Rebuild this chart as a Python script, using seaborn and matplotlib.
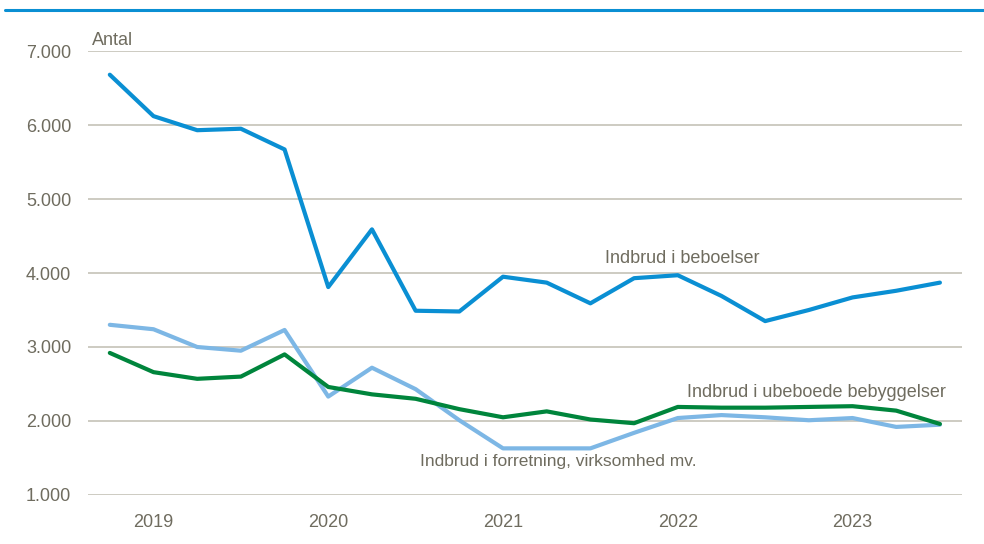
import pandas as pd
import matplotlib.pyplot as plt
import seaborn as sns

# quarters 2018 K4 .. 2023 K3
quarters = ['2018K4', '2019K1', '2019K2', '2019K3', '2019K4',
            '2020K1', '2020K2', '2020K3', '2020K4',
            '2021K1', '2021K2', '2021K3', '2021K4',
            '2022K1', '2022K2', '2022K3', '2022K4',
            '2023K1', '2023K2', '2023K3']
year_labels = ['2019', '2020', '2021', '2022', '2023']

beboelser = [6680, 6120, 5930, 5950, 5670, 3810, 4590, 3490, 3480, 3950,
             3870, 3590, 3930, 3970, 3690, 3350, 3500, 3670, 3760, 3870]
forretning = [3300, 3240, 3000, 2950, 3230, 2330, 2720, 2430, 2010, 1630,
              1630, 1630, 1840, 2040, 2080, 2050, 2010, 2040, 1920, 1950]
ubeboede = [2920, 2660, 2570, 2600, 2900, 2460, 2360, 2300, 2160, 2050,
            2130, 2020, 1970, 2190, 2180, 2180, 2190, 2200, 2140, 1960]

series_names = ['Indbrud i beboelser', 'Indbrud i forretning, virksomhed mv.',
                'Indbrud i ubeboede bebyggelser']

df = pd.DataFrame({
    'idx': list(range(len(quarters))) * 3,
    'kvartal': quarters * 3,
    'antal': beboelser + forretning + ubeboede,
    'serie': [series_names[0]] * 20 + [series_names[1]] * 20 + [series_names[2]] * 20,
})

sns.set_style('white')
plt.rcParams['font.family'] = ['Liberation Sans', 'DejaVu Sans']

txt = '#6f6c5f'
grid = '#c9c7bd'
palette = {series_names[0]: '#0a8fd3',
           series_names[1]: '#7db7e5',
           series_names[2]: '#00853c'}

fig = plt.figure(figsize=(9.84, 5.44), dpi=100)
ax = fig.add_axes([0.0894, 0.0901, 0.888, 0.8161])

sns.lineplot(data=df, x='idx', y='antal', hue='serie', palette=palette,
             hue_order=[series_names[1], series_names[2], series_names[0]],
             linewidth=3.0, legend=False, ax=ax)

ax.set_xlim(-0.5, 19.5)
ax.set_ylim(1000, 7000)
ax.set_yticks(range(1000, 8000, 1000))
ax.set_yticklabels([f'{v // 1000}.000' for v in range(1000, 8000, 1000)])
ax.set_xticks([1, 5, 9, 13, 17])
ax.set_xticklabels(year_labels)
ax.set_xlabel('')
ax.set_ylabel('')
ax.yaxis.grid(True, color=grid, linewidth=1.3)
ax.set_axisbelow(True)
for s in ax.spines.values():
    s.set_visible(False)
ax.tick_params(axis='both', length=0, labelsize=13, colors=txt)
ax.tick_params(axis='y', pad=12)
ax.tick_params(axis='x', pad=14)

ax.text(0.005, 1.005, 'Antal', transform=ax.transAxes, fontsize=13, color=txt,
        ha='left', va='bottom')
ax.text(13.1, 4080, series_names[0], fontsize=13, color=txt, ha='center', va='bottom')
ax.text(13.2, 2270, series_names[2], fontsize=13, color=txt, ha='left', va='bottom')
ax.text(10.27, 1560, series_names[1], fontsize=12.5, color=txt, ha='center', va='top')

# blue rule at the top
fig.add_artist(plt.Line2D([0.005, 1.0], [0.981, 0.981], color='#0a8fd3', linewidth=2.2))

plt.savefig('out.png', dpi=100)
